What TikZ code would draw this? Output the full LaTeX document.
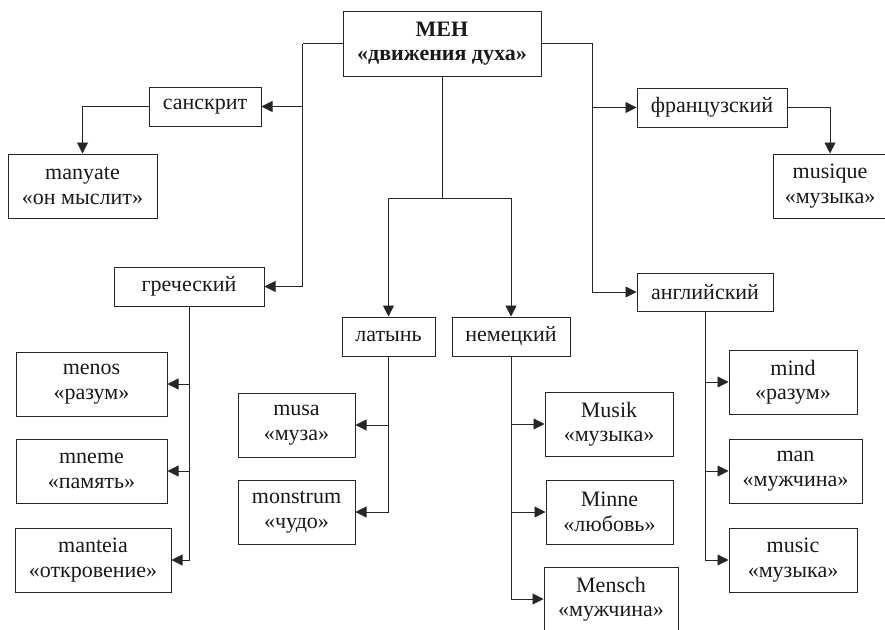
\documentclass[tikz,border=0pt]{standalone}
\usepackage{fontspec}
\setmainfont{Liberation Serif}
\usetikzlibrary{arrows.meta}
\begin{document}
\begin{tikzpicture}[x=1pt,y=1pt,
  box/.style={draw=black!85, line width=1pt, align=center, inner sep=0pt,
    font=\fontsize{22}{24.5}\selectfont, text=black!90},
  conn/.style={draw=black!85, line width=0.8pt},
  arr/.style={conn, -{Triangle[length=11pt,width=11pt]}}]
\useasboundingbox (0,0) rectangle (885,-629);
% top
\node[box, minimum width=198pt, minimum height=65pt, font=\fontsize{22}{24.5}\selectfont\bfseries] (men) at (442,-43.5) {МЕН\\«движения духа»};
% first level
\node[box, minimum width=112pt, minimum height=39pt] (sans) at (205,-106.5) {санскрит};
\node[box, minimum width=150pt, minimum height=39pt] (greek) at (189,-286.5) {греческий};
\node[box, minimum width=93pt, minimum height=39pt] (lat) at (388.5,-336.5) {латынь};
\node[box, minimum width=118pt, minimum height=39pt] (nem) at (511,-336.5) {немецкий};
\node[box, minimum width=150pt, minimum height=39pt] (fr) at (712,-107.5) {французский};
\node[box, minimum width=136pt, minimum height=38pt] (en) at (705,-292) {английский};
% leaves
\node[box, minimum width=149pt, minimum height=64pt] (manyate) at (82.5,-186) {manyate\\«он мыслит»};
\node[box, minimum width=114pt, minimum height=64pt] (musique) at (830,-186) {musique\\«музыка»};
\node[box, minimum width=151pt, minimum height=64pt] (menos) at (91.5,-384) {menos\\«разум»};
\node[box, minimum width=151pt, minimum height=64pt] (mneme) at (91.5,-471) {mneme\\«память»};
\node[box, minimum width=156pt, minimum height=64pt] (manteia) at (93,-560) {manteia\\«откровение»};
\node[box, minimum width=117pt, minimum height=64pt] (musa) at (296.5,-425) {musa\\«муза»};
\node[box, minimum width=117pt, minimum height=64pt] (monstrum) at (296.5,-512) {monstrum\\«чудо»};
\node[box, minimum width=128pt, minimum height=64pt] (musik) at (609,-424) {Musik\\«музыка»};
\node[box, minimum width=127pt, minimum height=64pt] (minne) at (609.5,-512) {Minne\\«любовь»};
\node[box, minimum width=134pt, minimum height=64pt] (mensch) at (611,-599) {Mensch\\«мужчина»};
\node[box, minimum width=128pt, minimum height=64pt] (mind) at (793,-382) {mind\\«разум»};
\node[box, minimum width=133pt, minimum height=64pt] (man) at (795.5,-471) {man\\«мужчина»};
\node[box, minimum width=128pt, minimum height=64pt] (music) at (793,-560) {music\\«музыка»};
% connectors from top
\coordinate (lspine) at ([xshift=-40pt]men.west);
\coordinate (rspine) at ([xshift=51pt]men.east);
\coordinate (mid) at (442,-198);
\draw[conn] (men.west) -- (lspine);
\draw[arr] (lspine) |- (sans.east);
\draw[arr] (lspine) |- (greek.east);
\draw[conn] (men.east) -- (rspine);
\draw[arr] (rspine) |- (fr.west);
\draw[arr] (rspine) |- (en.west);
\draw[conn] (men.south) -- (mid);
\draw[arr] (mid) -| (lat.north);
\draw[arr] (mid) -| (nem.north);
% second level
\draw[arr] (sans.west) -| (manyate.north);
\draw[arr] (fr.east) -| (musique.north);
\draw[arr] (greek.south) |- (menos.east);
\draw[arr] (greek.south) |- (mneme.east);
\draw[arr] (greek.south) |- (manteia.east);
\draw[arr] (lat.south) |- (musa.east);
\draw[arr] (lat.south) |- (monstrum.east);
\draw[arr] (nem.south) |- (musik.west);
\draw[arr] (nem.south) |- (minne.west);
\draw[arr] (nem.south) |- (mensch.west);
\draw[arr] (en.south) |- (mind.west);
\draw[arr] (en.south) |- (man.west);
\draw[arr] (en.south) |- (music.west);
\end{tikzpicture}
\end{document}
